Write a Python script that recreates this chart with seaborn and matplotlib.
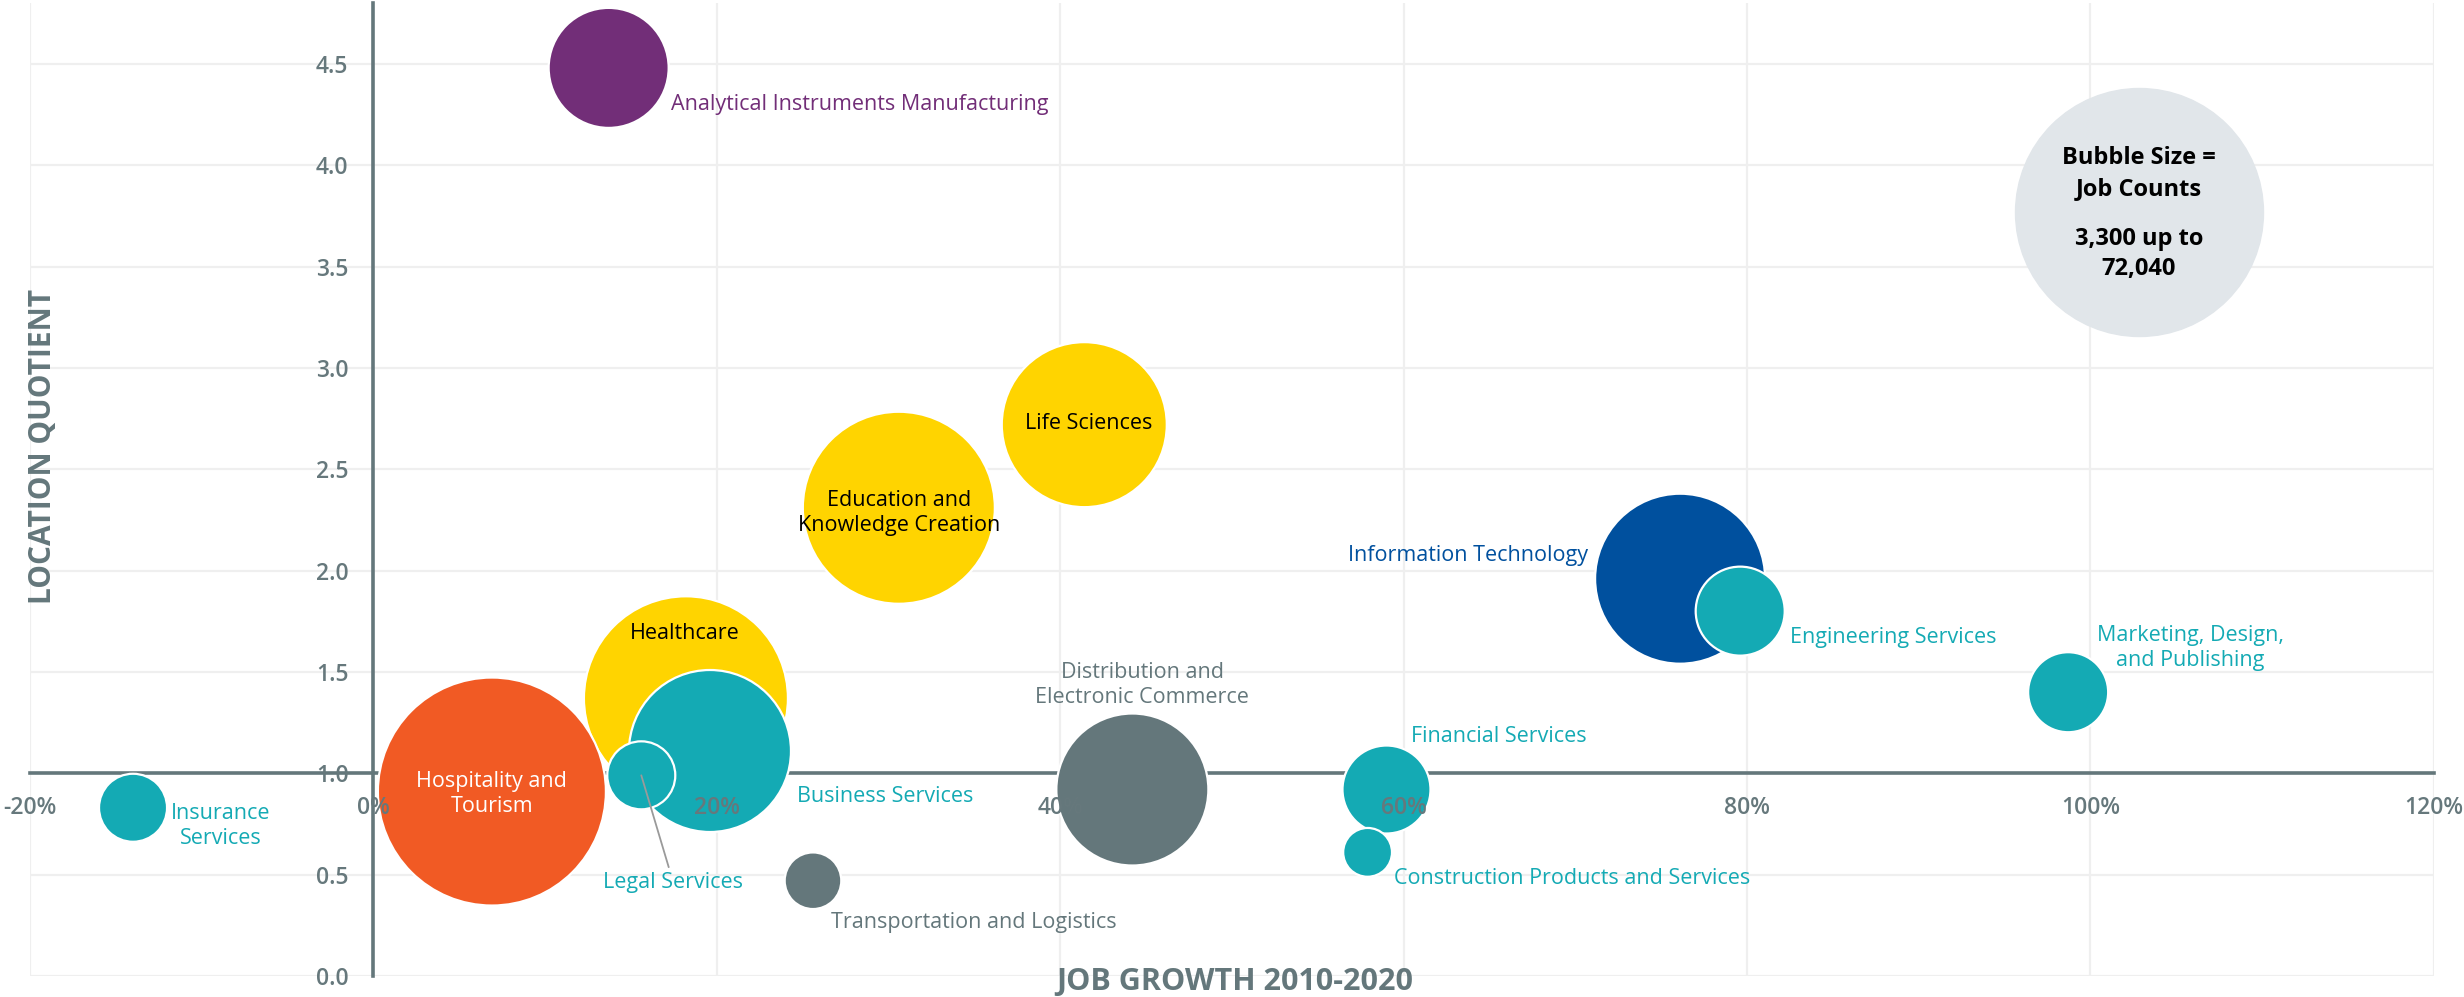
import pandas as pd
import matplotlib.pyplot as plt
import matplotlib.ticker as mticker
import seaborn as sns

# industry clusters, listed in drawing order (later ones sit on top)
clusters = [
    'Analytical Instruments Manufacturing', 'Life Sciences', 'Education and Knowledge Creation',
    'Healthcare', 'Hospitality and Tourism', 'Business Services', 'Legal Services',
    'Insurance Services', 'Transportation and Logistics', 'Distribution and Electronic Commerce',
    'Financial Services', 'Construction Products and Services', 'Information Technology',
    'Engineering Services', 'Marketing, Design, and Publishing',
]
job_growth = [13.7, 41.4, 30.6, 18.2, 6.9, 19.6, 15.6, -14.0, 25.6, 44.2, 59.0, 57.9, 76.1, 79.6, 98.7]
location_quotient = [4.48, 2.72, 2.31, 1.37, 0.91, 1.11, 0.99, 0.83, 0.47, 0.92, 0.92, 0.61, 1.96, 1.80, 1.40]
job_counts = [19960, 37730, 51090, 57670, 72040, 36370, 6410, 6410, 4440, 32020, 10730, 3300, 40050, 10980, 8870]

# label text as printed on the chart
label_text = [
    'Analytical Instruments Manufacturing', 'Life Sciences', 'Education and\nKnowledge Creation',
    'Healthcare', 'Hospitality and\nTourism', 'Business Services', 'Legal Services',
    'Insurance\nServices', 'Transportation and Logistics', 'Distribution and\nElectronic Commerce',
    'Financial Services', 'Construction Products and Services', 'Information Technology',
    'Engineering Services', 'Marketing, Design,\nand Publishing',
]
legend_title = 'Bubble Size =\nJob Counts'
legend_range = '3,300 up to\n72,040'

x_ticks = [-20, 0, 20, 40, 60, 80, 100, 120]
y_ticks = [0.0, 0.5, 1.0, 1.5, 2.0, 2.5, 3.0, 3.5, 4.0, 4.5]

PURPLE = '#722e78'
YELLOW = '#ffd400'
ORANGE = '#f15a24'
TEAL = '#14aab4'
BLUE = '#00509e'
SLATE = '#64777b'

cluster_colors = {
    'Analytical Instruments Manufacturing': PURPLE,
    'Life Sciences': YELLOW,
    'Education and Knowledge Creation': YELLOW,
    'Healthcare': YELLOW,
    'Hospitality and Tourism': ORANGE,
    'Business Services': TEAL,
    'Legal Services': TEAL,
    'Insurance Services': TEAL,
    'Transportation and Logistics': SLATE,
    'Distribution and Electronic Commerce': SLATE,
    'Financial Services': TEAL,
    'Construction Products and Services': TEAL,
    'Information Technology': BLUE,
    'Engineering Services': TEAL,
    'Marketing, Design, and Publishing': TEAL,
}

# label placement: offset from bubble centre (points), alignment, colour
label_style = {
    'Analytical Instruments Manufacturing': ((45, -26), 'left', PURPLE),
    'Life Sciences': ((3, 1), 'center', 'black'),
    'Education and Knowledge Creation': ((0, -4), 'center', 'black'),
    'Healthcare': ((-1, 47), 'center', 'black'),
    'Hospitality and Tourism': ((0, -2), 'center', 'white'),
    'Business Services': ((63, -33), 'left', TEAL),
    'Legal Services': ((23, -77), 'center', TEAL),
    'Insurance Services': ((63, -13), 'center', TEAL),
    'Transportation and Logistics': ((13, -30), 'left', SLATE),
    'Distribution and Electronic Commerce': ((7, 75), 'center', SLATE),
    'Financial Services': ((18, 38), 'left', TEAL),
    'Construction Products and Services': ((19, -19), 'left', TEAL),
    'Information Technology': ((-66, 17), 'right', BLUE),
    'Engineering Services': ((36, -19), 'left', TEAL),
    'Marketing, Design, and Publishing': ((88, 32), 'center', TEAL),
}


def px_radius_to_area(r_px, dpi=100):
    # scatter sizes are marker diameter squared in points
    return (2 * r_px * 72 / dpi) ** 2


def main():
    df = pd.DataFrame({
        'cluster': clusters,
        'growth': job_growth,
        'lq': location_quotient,
        'jobs': job_counts,
        'label': label_text,
    })

    sns.set_theme(style='white')
    plt.rcParams['font.family'] = ['Open Sans', 'DejaVu Sans']

    fig = plt.figure(figsize=(24.64, 9.97), dpi=100)
    ax = fig.add_axes([0.01218, 0.02106, 0.9756, 0.9759])

    # largest bubble ~114 px radius, area proportional to job counts
    s_max = px_radius_to_area(114)
    s_min = s_max * min(job_counts) / max(job_counts)

    sns.scatterplot(
        data=df, x='growth', y='lq', hue='cluster', palette=cluster_colors,
        size='jobs', sizes=(s_min, s_max), size_norm=(min(job_counts), max(job_counts)),
        edgecolor='white', linewidth=1.6, alpha=1, legend=False, zorder=3, ax=ax,
    )

    ax.set_xlim(-20, 120)
    ax.set_ylim(0, 4.8)
    ax.set_xticks(x_ticks)
    ax.set_yticks(y_ticks)
    ax.xaxis.set_major_formatter(mticker.FuncFormatter(lambda v, _: f'{v:.0f}%'))
    ax.yaxis.set_major_formatter(mticker.FuncFormatter(lambda v, _: f'{v:.1f}'))

    # light grid behind everything
    for t in x_ticks:
        ax.axvline(t, color='#efefef', lw=1.6, zorder=0)
    for t in y_ticks:
        ax.axhline(t, color='#efefef', lw=1.6, zorder=0)

    # axes cross at (0%, 1.0)
    for side in ['top', 'right']:
        ax.spines[side].set_visible(False)
    ax.spines['left'].set_position(('data', 0))
    ax.spines['bottom'].set_position(('data', 1.0))
    for side in ['left', 'bottom']:
        ax.spines[side].set_color(SLATE)
        ax.spines[side].set_linewidth(2.6)
        ax.spines[side].set_zorder(2)

    ax.tick_params(axis='x', length=0, pad=16, labelsize=16.5, labelcolor='#66787c')
    ax.tick_params(axis='y', length=0, pad=18, labelsize=16.5, labelcolor='#66787c')
    for lbl in ax.get_xticklabels() + ax.get_yticklabels():
        lbl.set_fontweight('semibold')
    ax.xaxis.set_zorder(5)
    ax.yaxis.set_zorder(5)

    ax.set_xlabel('JOB GROWTH 2010-2020', fontsize=22, fontweight='bold', color=SLATE, va='center')
    ax.xaxis.set_label_coords(0.501, -0.006)
    ax.set_ylabel('LOCATION QUOTIENT', fontsize=21.5, fontweight='bold', color=SLATE, va='center')
    ax.yaxis.set_label_coords(0.0056, 0.544)

    # bubble labels
    for _, row in df.iterrows():
        offset, ha, color = label_style[row['cluster']]
        arrow = None
        if row['cluster'] == 'Legal Services':
            arrow = dict(arrowstyle='-', color='#9a9a9a', lw=1.3, shrinkA=1, shrinkB=0)
        ax.annotate(row['label'], xy=(row['growth'], row['lq']), xytext=offset,
                    textcoords='offset points', ha=ha, va='center', fontsize=15.5,
                    color=color, linespacing=1.25, arrowprops=arrow, zorder=4)

    # size key bubble in the upper right
    ax.scatter([0.8775], [0.785], s=px_radius_to_area(124), color='#e1e6ea',
               transform=ax.transAxes, zorder=3, clip_on=False)
    ax.text(0.8773, 0.825, legend_title, transform=ax.transAxes, ha='center', va='center',
            fontsize=17, fontweight='bold', color='black', linespacing=1.38, zorder=4)
    ax.text(0.8773, 0.742, legend_range, transform=ax.transAxes, ha='center', va='center',
            fontsize=17, fontweight='bold', color='black', linespacing=1.38, zorder=4)

    fig.savefig('out.png', dpi=100)


if __name__ == "__main__":
    main()
